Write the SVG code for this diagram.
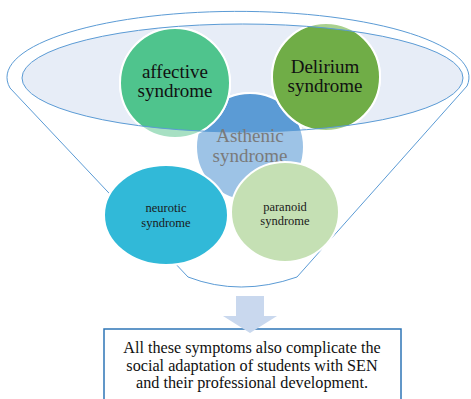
<svg xmlns="http://www.w3.org/2000/svg" width="471" height="399" viewBox="0 0 471 399">
<style>
.big{font-family:"Liberation Serif","Times New Roman",serif;font-size:19px;text-anchor:middle;fill:#111}
.gray{font-family:"Liberation Serif","Times New Roman",serif;font-size:19px;text-anchor:middle;fill:#7a7a7a}
.small{font-family:"Liberation Serif","Times New Roman",serif;font-size:12.5px;text-anchor:middle;fill:#1a1a1a}
.box{font-family:"Liberation Serif","Times New Roman",serif;font-size:16.2px;text-anchor:middle;fill:#111}
.c{stroke:#fff;stroke-width:2}
.line{fill:none;stroke:#5b9bd5;stroke-width:1}
</style>
<defs>
<clipPath id="inner"><ellipse cx="242.5" cy="78" rx="220.5" ry="54"/></clipPath>
</defs>
<g id="connectors">
<path class="line" d="M10,88 A231,66 0 1 1 467,86 L297,277 Q240,297 188,277 Z"/>
</g>
<g id="funnel-top">
<ellipse cx="242.5" cy="78" rx="220.5" ry="54" fill="#e7edf7"/>
</g>
<g id="asthenic">
<circle class="c" cx="250" cy="147" r="54" fill="#9dc3e6"/>
<circle class="c" cx="250" cy="147" r="54" fill="#5b9bd5" clip-path="url(#inner)"/>
</g>
<g id="affective">
<circle class="c" cx="175" cy="83" r="55" fill="#a7e0c3"/>
<circle class="c" cx="175" cy="83" r="55" fill="#4fc48d" clip-path="url(#inner)"/>
</g>
<g id="delirium">
<circle class="c" cx="326" cy="77" r="54" fill="#a9d18e"/>
<circle class="c" cx="326" cy="77" r="54" fill="#70ad47" clip-path="url(#inner)"/>
</g>
<g id="funnel-rim">
<ellipse class="line" cx="242.5" cy="78" rx="220.5" ry="54"/>
</g>
<g id="asthenic-label">
<text class="gray" x="250" y="142">Asthenic</text>
<text class="gray" x="250" y="162">syndrome</text>
</g>
<g id="affective-label">
<text class="big" x="175" y="78">affective</text>
<text class="big" x="175" y="97">syndrome</text>
</g>
<g id="delirium-label">
<text class="big" x="325" y="73">Delirium</text>
<text class="big" x="325" y="92">syndrome</text>
</g>
<g id="neurotic">
<ellipse class="c" cx="166" cy="215" rx="62" ry="50" fill="#31b9d8"/>
<text class="small" x="166" y="212">neurotic</text>
<text class="small" x="166" y="227">syndrome</text>
</g>
<g id="paranoid">
<ellipse class="c" cx="285" cy="212" rx="54" ry="50" fill="#c5e0b4"/>
<text class="small" x="285" y="211">paranoid</text>
<text class="small" x="285" y="225">syndrome</text>
</g>
<g id="result">
<rect x="104" y="329" width="297" height="80" fill="#fff" stroke="#2e75b6" stroke-width="1.5"/>
<text class="box" x="252" y="353">All these symptoms also complicate the</text>
<text class="box" x="252" y="370.5">social adaptation of students with SEN</text>
<text class="box" x="252" y="388">and their professional development.</text>
</g>
<g id="arrow">
<polygon points="236,296 264,296 264,316 277,316 250,333 223,316 236,316" fill="#c9d8ee"/>
</g>
</svg>
